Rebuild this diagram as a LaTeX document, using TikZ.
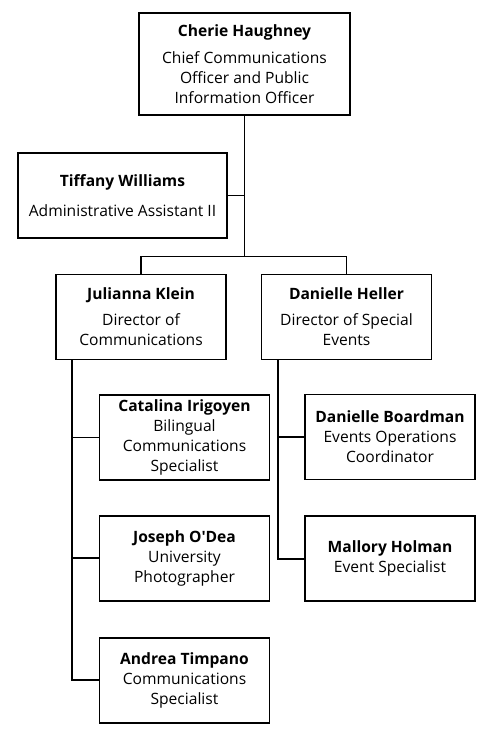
\documentclass[tikz,border=0pt]{standalone}
\usepackage{fontspec}
\setmainfont{Open Sans}
\usetikzlibrary{positioning}
\usetikzlibrary{calc}

\tikzset{
  person/.style={draw, line width=1.9pt, align=center, inner sep=2pt,
    minimum width=170pt, minimum height=85pt,
    font=\fontsize{15.6}{20}\selectfont},
  link/.style={line width=1.9pt},
}
\newcommand{\who}[1]{\textbf{#1}}

\begin{document}
\begin{tikzpicture}[x=1pt, y=-1pt]
    \useasboundingbox (0,0) rectangle (492,732);

    % top of the office
    \node[person, minimum width=211pt, minimum height=102pt] (chief) at (244.5,64)
        {\who{Cherie Haughney}\\[7pt]Chief Communications\\Officer and Public\\Information Officer};
    \node[person, minimum width=209pt] (tiffany) at (122.5,195.5)
        {\who{Tiffany Williams}\\[10pt]Administrative Assistant II};

    % directors
    \node[person] (klein) at (141,317) {\who{Julianna Klein}\\[6pt]Director of\\Communications};
    \node[person] (heller) at (346.5,317) {\who{Danielle Heller}\\[6pt]Director of Special\\Events};

    % communications staff
    \node[person] (irigoyen) at (184.5,437.5) {\who{Catalina Irigoyen}\\Bilingual\\Communications\\Specialist};
    \node[person, below=34pt of irigoyen] (odea) {\who{Joseph O\textquotesingle Dea}\\University\\Photographer};
    \node[person, below=35pt of odea] (timpano) {\who{Andrea Timpano}\\Communications\\Specialist};

    % special events staff
    \node[person] (boardman) at (390,437) {\who{Danielle Boardman}\\Events Operations\\Coordinator};
    \node[person, below=35pt of boardman] (holman) {\who{Mallory Holman}\\Event Specialist};

    \coordinate (bus) at (244.5,256.5);
    \coordinate (kleintrunk) at ($(klein.south west)+(17,0)$);
    \coordinate (hellertrunk) at ($(heller.south west)+(17,0)$);

    \draw[link] (chief.south) -- (bus);
    \draw[link] (tiffany.east) -- (tiffany.east -| bus);
    \draw[link] (klein.north) |- (bus) -| (heller.north);

    \draw[link] (kleintrunk) |- (timpano.west);
    \draw[link] (kleintrunk |- irigoyen.west) -- (irigoyen.west);
    \draw[link] (kleintrunk |- odea.west) -- (odea.west);

    \draw[link] (hellertrunk) |- (holman.west);
    \draw[link] (hellertrunk |- boardman.west) -- (boardman.west);
\end{tikzpicture}
\end{document}
